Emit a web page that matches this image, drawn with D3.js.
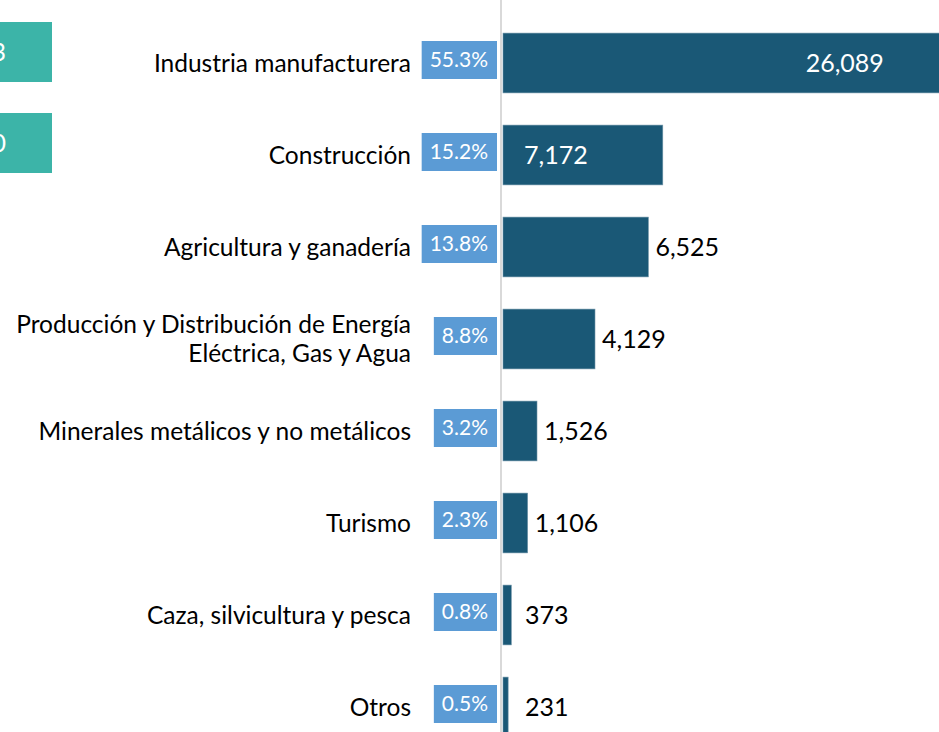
<!DOCTYPE html>
<html>
<head>
<meta charset="utf-8">
<script src="https://cdnjs.cloudflare.com/ajax/libs/d3/7.8.5/d3.min.js"></script>
<style>
  body { margin: 0; background: #fff; overflow: hidden; }
  text { font-family: Lato, "Open Sans", sans-serif; }
</style>
</head>
<body>
<div id="chart-area"></div>
<script>
// sector names, investment amounts and share of total
var categories = [
  ["Industria manufacturera"],
  ["Construcción"],
  ["Agricultura y ganadería"],
  ["Producción y Distribución de Energía", "Eléctrica, Gas y Agua"],
  ["Minerales metálicos y no metálicos"],
  ["Turismo"],
  ["Caza, silvicultura y pesca"],
  ["Otros"]
];
var values = [26089, 7172, 6525, 4129, 1526, 1106, 373, 231];
var shares = [55.3, 15.2, 13.8, 8.8, 3.2, 2.3, 0.8, 0.5];
// summary cards partly hidden at the left edge
var cardTexts = ["3", "0"];

var width = 939;
var height = 732;

var svg = d3.select('#chart-area')
  .append('svg')
  .attr('width', width)
  .attr('height', height);

var y = d3.scaleBand()
  .domain(d3.range(values.length))
  .range([17, 753])
  .paddingInner(0.35)
  .paddingOuter(0.175);

var x = d3.scaleLinear()
  .domain([0, 26089])
  .range([503, 503 + 26089 * 0.02228]);

// cards
svg.selectAll('rect.card')
  .data(cardTexts)
  .enter()
  .append('rect')
  .attr('class', 'card')
  .attr('x', -60)
  .attr('y', (d, i) => 22 + i * 91)
  .attr('width', 112)
  .attr('height', 60)
  .attr('fill', '#3cb4a8');

svg.selectAll('text.card')
  .data(cardTexts)
  .enter()
  .append('text')
  .attr('class', 'card')
  .attr('x', 6)
  .attr('y', (d, i) => 52 + i * 91)
  .attr('dy', '0.35em')
  .attr('text-anchor', 'end')
  .attr('fill', '#fff')
  .attr('font-size', '25px')
  .text(d => d);

// axis line
svg.append('line')
  .attr('x1', x(0) - 2).attr('x2', x(0) - 2)
  .attr('y1', 0).attr('y2', height)
  .attr('stroke', '#d9d9d9')
  .attr('stroke-width', 2);

// bars
svg.selectAll('rect.bar')
  .data(values)
  .enter()
  .append('rect')
  .attr('class', 'bar')
  .attr('x', x(0))
  .attr('y', (d, i) => y(i))
  .attr('width', d => x(d) - x(0))
  .attr('height', y.bandwidth())
  .attr('fill', '#1a5876')
  .attr('stroke', '#6f93a8')
  .attr('stroke-width', 0.6);

// category labels
var cats = svg.selectAll('text.cat')
  .data(categories)
  .enter()
  .append('text')
  .attr('class', 'cat')
  .attr('text-anchor', 'end')
  .attr('font-size', '24.5px')
  .attr('fill', '#000')
  .attr('y', (d, i) => y(i) + y.bandwidth() / 2);

cats.each(function(d) {
  var t = d3.select(this);
  d.forEach((line, j) => {
    t.append('tspan')
      .attr('x', 411)
      .attr('dy', j === 0 ? (0.35 - (d.length - 1) * 0.6) + 'em' : '1.2em')
      .text(line);
  });
});

// percentage boxes
var pct = svg.selectAll('g.pct')
  .data(shares)
  .enter()
  .append('g')
  .attr('class', 'pct')
  .attr('transform', (d, i) => `translate(497, ${y(i) + y.bandwidth() / 2 - 3})`);

var pctBox = pct.append('rect')
  .attr('fill', '#5b9bd5')
  .attr('y', -19)
  .attr('height', 38);

var pctText = pct.append('text')
  .attr('text-anchor', 'end')
  .attr('x', -9)
  .attr('dy', '0.35em')
  .attr('fill', '#fff')
  .attr('font-size', '21px')
  .text(d => d.toFixed(1) + '%');

pctText.each(function(d, i) {
  var w = this.getComputedTextLength();
  d3.select(pctBox.nodes()[i])
    .attr('x', -w - 17)
    .attr('width', w + 17);
});

// value labels
svg.selectAll('text.val')
  .data(values)
  .enter()
  .append('text')
  .attr('class', 'val')
  .attr('font-size', '25px')
  .attr('dy', '0.35em')
  .attr('y', (d, i) => y(i) + y.bandwidth() / 2)
  .attr('text-anchor', d => d > 20000 ? 'middle' : 'start')
  .attr('fill', d => d > 7000 ? '#fff' : '#000')
  .attr('x', d => {
    if (d > 20000) return x(d * 0.588);
    if (d > 7000) return x(0) + 21;
    return Math.max(x(d) + 7, 525);
  })
  .text(d => d3.format(',')(d));
</script>
</body>
</html>
